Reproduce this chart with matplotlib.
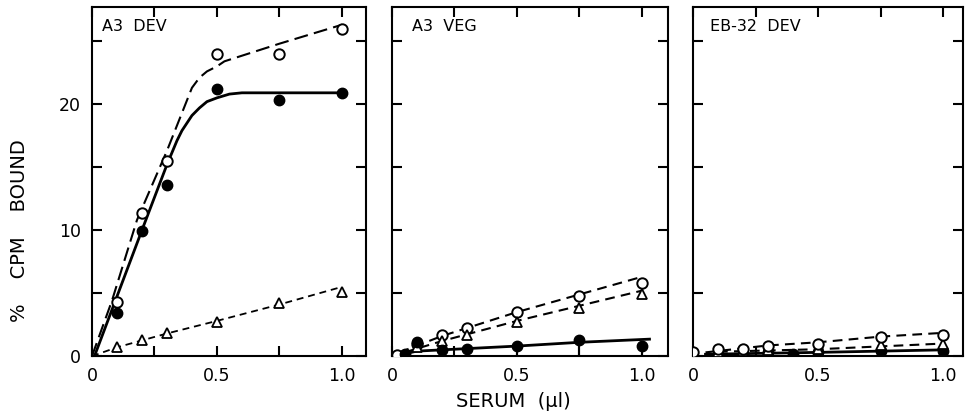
import matplotlib
matplotlib.use("Agg")
import matplotlib.pyplot as plt

plt.rcParams['font.family'] = ['DejaVu Sans']
plt.rcParams['lines.scale_dashes'] = False

# sampling points (serum, µl)
x_pts = [0.1, 0.2, 0.3, 0.5, 0.75, 1.0]

# ---- A3 DEV ----
a3dev_filled = [3.4, 9.9, 13.6, 21.2, 20.3, 20.9]
a3dev_open = [4.3, 11.4, 15.5, 24.0, 24.0, 26.0]
a3dev_tri = [0.7, 1.3, 1.85, 2.7, 4.2, 5.1]
# hand-drawn fit curves
a3dev_solid_x = [0.01, 0.2, 0.30, 0.34, 0.36, 0.38, 0.40, 0.43, 0.46, 0.50, 0.55, 0.60, 1.0]
a3dev_solid_y = [0, 10.0, 15.2, 17.1, 17.9, 18.5, 19.1, 19.7, 20.2, 20.5, 20.8, 20.9, 20.9]
a3dev_dash_x = [0, 0.08, 0.18, 0.30, 0.35, 0.38, 0.40, 0.43, 0.46, 0.50, 0.53, 0.75, 1.0]
a3dev_dash_y = [0, 4.4, 10.8, 16.3, 18.8, 20.3, 21.3, 22.1, 22.6, 23.0, 23.4, 24.8, 26.3]
a3dev_tri_x = [0, 0.1, 0.3, 0.5, 0.75, 1.0]
a3dev_tri_y = [0, 0.7, 1.8, 2.8, 4.1, 5.5]

# ---- A3 VEG ----
a3veg_open_x = [0.02, 0.1, 0.2, 0.3, 0.5, 0.75, 1.0]
a3veg_open = [0.1, 1.0, 1.7, 2.2, 3.5, 4.8, 5.8]
a3veg_tri = [0.7, 1.2, 1.7, 2.7, 3.8, 4.9]
a3veg_filled_x = [0.05, 0.1, 0.2, 0.3, 0.5, 0.75, 1.0]
a3veg_filled = [0.2, 1.1, 0.5, 0.6, 0.8, 1.3, 0.8]
a3veg_err_lo = [0.0, 0.0, 0.5, 0.0, 0.8, 1.3, 0.8]
a3veg_dash_x = [0.03, 0.2, 0.5, 1.0]
a3veg_dash_y = [0.3, 1.6, 3.5, 6.3]
a3veg_tdash_x = [0.05, 0.2, 0.5, 1.0]
a3veg_tdash_y = [0.3, 1.2, 2.8, 5.2]
a3veg_solid_x = [0.03, 0.1, 0.3, 0.5, 0.75, 1.03]
a3veg_solid_y = [0.1, 0.4, 0.6, 0.8, 1.1, 1.35]

# ---- EB-32 DEV ----
eb_open_x = [0, 0.1, 0.2, 0.3, 0.5, 0.75, 1.0]
eb_open = [0.3, 0.55, 0.6, 0.8, 0.95, 1.5, 1.7]
eb_tri = [0.35, 0.4, 0.5, 0.6, 0.9, 1.0]
eb_filled_x = [0.1, 0.2, 0.3, 0.4, 0.5, 0.75, 1.0]
eb_filled = [0.2, 0.2, 0.3, 0.2, 0.3, 0.4, 0.4]
eb_dash_x = [0.05, 0.3, 0.5, 0.75, 1.0]
eb_dash_y = [0.3, 0.85, 1.1, 1.55, 1.85]
eb_tdash_x = [0.1, 0.5, 1.0]
eb_tdash_y = [0.35, 0.55, 1.0]
eb_solid_x = [0.05, 0.5, 1.0]
eb_solid_y = [0.15, 0.3, 0.5]

titles = ["A3  DEV", "A3  VEG", "EB-32  DEV"]

fig = plt.figure(figsize=(9.66, 4.2), dpi=100)
boxes = [[0.0952, 0.152, 0.2836, 0.831],
         [0.4058, 0.152, 0.2857, 0.831],
         [0.7174, 0.152, 0.2795, 0.831]]
xmax = [1.096, 1.104, 1.08]
axes = [fig.add_axes(b) for b in boxes]

ms = 7.5
mk = dict(color='black', linestyle='none', zorder=3)

# panel 1
ax = axes[0]
ax.plot(a3dev_solid_x, a3dev_solid_y, color='black', lw=2.0)
ax.plot(a3dev_dash_x, a3dev_dash_y, color='black', lw=1.5, dashes=(10, 4.5))
ax.plot(a3dev_tri_x, a3dev_tri_y, color='black', lw=1.3, dashes=(5, 3.5))
ax.plot(x_pts, a3dev_filled, marker='o', ms=ms, **mk)
ax.plot(x_pts, a3dev_open, marker='o', ms=ms, mfc='white', mew=1.4, **mk)
ax.plot(x_pts, a3dev_tri, marker='^', ms=ms, mfc='white', mew=1.3, **mk)

# panel 2
ax = axes[1]
ax.plot(a3veg_solid_x, a3veg_solid_y, color='black', lw=2.0)
ax.plot(a3veg_dash_x, a3veg_dash_y, color='black', lw=1.5, dashes=(7, 4.5))
ax.plot(a3veg_tdash_x, a3veg_tdash_y, color='black', lw=1.5, dashes=(7, 4.5))
ax.errorbar(a3veg_filled_x, a3veg_filled, yerr=[a3veg_err_lo, [0] * len(a3veg_err_lo)],
            fmt='o', ms=ms, color='black', elinewidth=1.5, capsize=0, zorder=3)
ax.plot(a3veg_open_x, a3veg_open, marker='o', ms=ms, mfc='white', mew=1.4, **mk)
ax.plot(x_pts, a3veg_tri, marker='^', ms=ms, mfc='white', mew=1.3, **mk)

# panel 3
ax = axes[2]
ax.plot(eb_solid_x, eb_solid_y, color='black', lw=2.0)
ax.plot(eb_dash_x, eb_dash_y, color='black', lw=1.5, dashes=(7, 4.5))
ax.plot(eb_tdash_x, eb_tdash_y, color='black', lw=1.5, dashes=(7, 4.5))
ax.plot(eb_filled_x, eb_filled, marker='o', ms=ms, **mk)
ax.plot(x_pts, eb_tri, marker='^', ms=ms, mfc='white', mew=1.3, **mk)
ax.plot(eb_open_x, eb_open, marker='o', ms=ms, mfc='white', mew=1.4, **mk)

for i, ax in enumerate(axes):
    ax.set_xlim(0, xmax[i])
    ax.set_ylim(0, 27.7)
    ax.set_xticks([0, 0.25, 0.5, 0.75, 1.0])
    ax.set_xticklabels(["0", "", "0.5", "", "1.0"])
    ax.set_yticks([0, 5, 10, 15, 20, 25])
    if i == 0:
        ax.set_yticklabels(["0", "", "10", "", "20", ""])
    else:
        ax.set_yticklabels([])
    ax.tick_params(direction='in', length=7, width=1.5, top=True, right=True,
                   labelsize=12.5, pad=8)
    for s in ax.spines.values():
        s.set_linewidth(1.5)
    ax.text(0.035 if i == 0 else (0.072 if i == 1 else 0.063), 0.965, titles[i],
            transform=ax.transAxes, ha='left', va='top', fontsize=11.5)

fig.text(0.531, 0.045, "SERUM  (µl)", ha='center', va='center', fontsize=14)
fig.text(0.02, 0.45, "%    CPM    BOUND", rotation=90, ha='center', va='center',
         fontsize=14)

fig.savefig("out.png", dpi=100)
